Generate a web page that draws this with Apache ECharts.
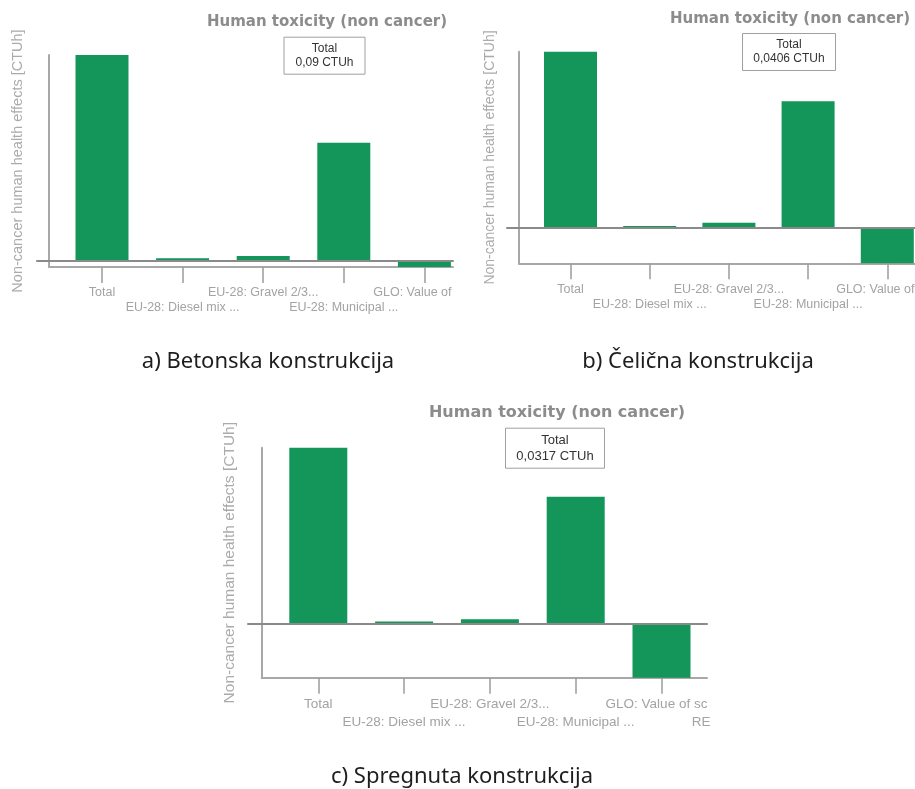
<!DOCTYPE html>
<html><head><meta charset="utf-8">
<script src="https://cdn.jsdelivr.net/npm/echarts@6/dist/echarts.min.js"></script>
<style>html,body{margin:0;padding:0;background:#fff}#c{width:915px;height:789px}</style>
</head><body><div id="c"></div>
<script>
// ---- data ----
const categoriesAB = ['Total', 'EU-28: Diesel mix ...', 'EU-28: Gravel 2/3...', 'EU-28: Municipal ...', 'GLO: Value of'];
const categoriesC = ['Total', 'EU-28: Diesel mix ...', 'EU-28: Gravel 2/3...', 'EU-28: Municipal ...', 'GLO: Value of sc'];
const extraLabelC = 'RE';
const valuesA = [0.09, 0.0012, 0.0022, 0.0517, -0.0026];   // Betonska
const valuesB = [0.0406, 0.0004, 0.00115, 0.0292, -0.0082]; // Čelična
const valuesC = [0.0317, 0.0005, 0.0009, 0.0229, -0.0096];  // Spregnuta
const chartTitle = 'Human toxicity (non cancer)';
const yAxisName = 'Non-cancer human health effects [CTUh]';
const totalBoxes = ['Total\n0,09 CTUh', 'Total\n0,0406 CTUh', 'Total\n0,0317 CTUh'];
const captions = ['a) Betonska konstrukcija', 'b) Čelična konstrukcija', 'c) Spregnuta konstrukcija'];

// ---- layout (pixels) ----
const panels = [
  {cats: categoriesAB, vals: valuesA, box: totalBoxes[0], extra: null,
   axisX: 49, top: 55, bottom: 267, right: 453, zeroLeft: 37, c0: 102, step: 80.6, barW: 53,
   font: 12.5, lh: 15, margin: 18.5, nameGap: 24, nameSize: 14.5,
   titleX: 327, titleTop: 15, titleSize: 15, boxX: 324.5, boxTop: 36.7, boxSize: 12, boxLH: 14, boxPad: [5, 12], shift: 24,
   capX: 268, capY: 362},
  {cats: categoriesAB, vals: valuesB, box: totalBoxes[1], extra: null,
   axisX: 519, top: 51.7, bottom: 263.3, right: 915, zeroLeft: 507, c0: 570.5, step: 79.2, barW: 53,
   font: 12.5, lh: 15.5, margin: 18, nameGap: 22, nameSize: 14,
   titleX: 790, titleTop: 11.5, titleSize: 15, boxX: 789, boxTop: 33, boxSize: 12, boxLH: 14, boxPad: [5, 11], shift: 24,
   capX: 698, capY: 362},
  {cats: categoriesC, vals: valuesC, box: totalBoxes[2], extra: extraLabelC,
   axisX: 261.7, top: 447.7, bottom: 677.7, right: 707, zeroLeft: 248, c0: 318.3, step: 85.8, barW: 58,
   font: 13.5, lh: 18, margin: 18, nameGap: 24, nameSize: 15.5,
   titleX: 557, titleTop: 405, titleSize: 16, boxX: 555, boxTop: 427.7, boxSize: 13, boxLH: 15.5, boxPad: [5, 11], shift: 10,
   capX: 462, capY: 777}
];

const FONT = '"Liberation Sans", Arial, sans-serif';
const BAR = '#14955a';
const LABEL = '#a3a3a3';
const grid = [], xAxis = [], yAxis = [], series = [], title = [];

panels.forEach((p, k) => {
  const ymin = Math.min(...p.vals), ymax = Math.max(...p.vals);
  const xmin = (p.axisX - p.c0) / p.step, xmax = (p.right - p.c0) / p.step;
  const idx = p.cats.map((_, i) => i);
  const even = idx.filter(i => i % 2 === 0), odd = idx.filter(i => i % 2 === 1);
  const last = p.cats.length - 1;
  const fmt = (v) => {
    const i = Math.round(v);
    const n = p.cats[i];
    if (i === last) return '{g|' + n + '}' + (p.extra ? '\n{r|' + p.extra + '}' : '');
    return n;
  };
  const rich = {
    g: {fontSize: p.font, lineHeight: p.lh, color: LABEL, fontFamily: FONT, padding: [0, p.shift, 0, 0]},
    r: {fontSize: p.font, lineHeight: p.lh, color: LABEL, fontFamily: FONT, align: 'right', padding: [0, Math.max(p.shift - 3, 0), 0, 0]}
  };
  const gMain = 2 * k, gZero = 2 * k + 1;
  grid.push({left: p.axisX, top: p.top, width: p.right - p.axisX, height: p.bottom - p.top, outerBoundsMode: 'none', containLabel: false});
  grid.push({left: p.zeroLeft, top: p.top, width: p.right - p.zeroLeft, height: p.bottom - p.top, outerBoundsMode: 'none', containLabel: false});
  // main x axis: line, ticks, first row of labels
  xAxis.push({
    gridIndex: gMain, type: 'value', position: 'bottom', min: xmin, max: xmax,
    axisLine: {show: true, onZero: false, lineStyle: {color: '#a8a8a8', width: 2}},
    axisTick: {show: true, customValues: idx, length: 16, lineStyle: {color: '#9c9c9c', width: 1.5}},
    splitLine: {show: false},
    axisLabel: {show: true, customValues: even, margin: p.margin, fontSize: p.font, lineHeight: p.lh,
      color: LABEL, fontFamily: FONT, formatter: fmt, rich}
  });
  // second row of labels
  xAxis.push({
    gridIndex: gMain, type: 'value', position: 'bottom', min: xmin, max: xmax,
    axisLine: {show: false, onZero: false}, axisTick: {show: false}, splitLine: {show: false},
    axisLabel: {show: true, customValues: odd, margin: p.margin + p.lh, fontSize: p.font, lineHeight: p.lh,
      color: LABEL, fontFamily: FONT, formatter: fmt, rich}
  });
  // zero line
  xAxis.push({
    gridIndex: gZero, type: 'value', min: 0, max: 1, z: 5,
    axisLine: {show: true, onZero: true, lineStyle: {color: '#8a8a8a', width: 2}},
    axisTick: {show: false}, axisLabel: {show: false}, splitLine: {show: false}
  });
  yAxis.push({
    gridIndex: gMain, type: 'value', min: ymin, max: ymax,
    axisLine: {show: true, onZero: false, lineStyle: {color: '#a8a8a8', width: 2}},
    axisTick: {show: false}, axisLabel: {show: false}, splitLine: {show: false},
    name: yAxisName, nameLocation: 'middle', nameGap: p.nameGap,
    nameTextStyle: {color: '#ababab', fontSize: p.nameSize, fontFamily: FONT}
  });
  yAxis.push({
    gridIndex: gZero, type: 'value', min: ymin, max: ymax,
    axisLine: {show: false}, axisTick: {show: false}, axisLabel: {show: false}, splitLine: {show: false}
  });
  series.push({
    type: 'bar', xAxisIndex: 3 * k, yAxisIndex: 2 * k, barWidth: p.barW,
    itemStyle: {color: BAR}, silent: true,
    data: p.vals.map((v, i) => [i, v])
  });
  title.push({
    text: chartTitle, left: p.titleX, top: p.titleTop, textAlign: 'center', padding: 0,
    textStyle: {color: '#8c8c8c', fontSize: p.titleSize, fontWeight: 'bold', fontFamily: '"DejaVu Sans", sans-serif'}
  });
  title.push({
    text: p.box, left: p.boxX - p.boxPad[1], top: p.boxTop, textAlign: 'center', padding: p.boxPad,
    borderColor: '#a0a0a0', borderWidth: 1,
    textStyle: {color: '#333', fontSize: p.boxSize, lineHeight: p.boxLH, fontWeight: 'normal', fontFamily: FONT, align: 'center'}
  });
  title.push({
    text: captions[k], left: p.capX, top: p.capY - 15, textAlign: 'center', padding: 0,
    textStyle: {color: '#1e1e1e', fontSize: 22, lineHeight: 30, fontWeight: 'normal', fontFamily: '"Noto Sans", sans-serif'}
  });
});

const chart = echarts.init(document.getElementById('c'), null, {renderer: 'canvas'});
chart.setOption({animation: false, backgroundColor: '#fff', title, grid, xAxis, yAxis, series});
</script></body></html>
